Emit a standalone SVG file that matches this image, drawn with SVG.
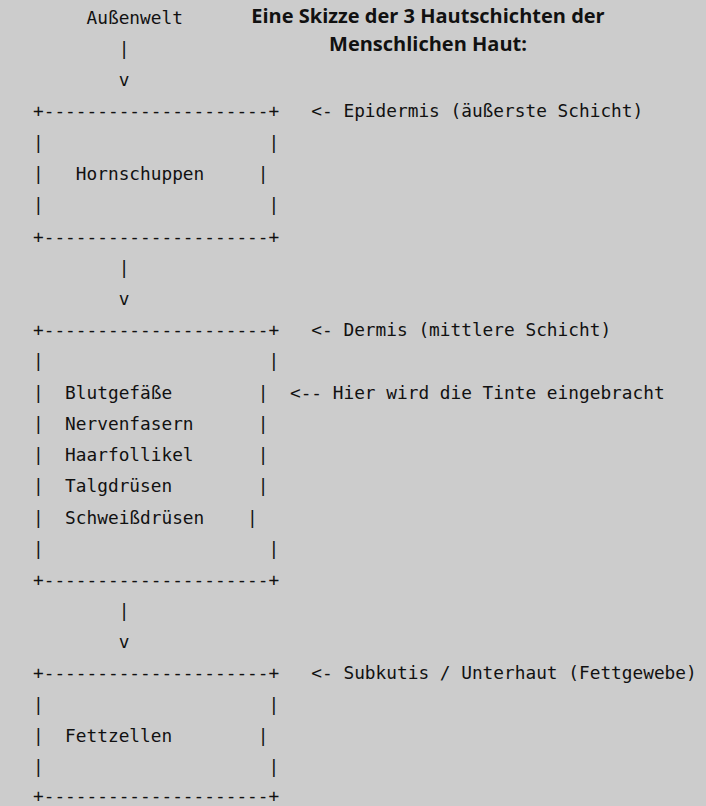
<svg xmlns="http://www.w3.org/2000/svg" width="706" height="806" viewBox="0 0 706 806">
<style>
.m{font-family:"DejaVu Sans Mono","Liberation Mono",monospace;font-size:17.8px;fill:#111;white-space:pre}
.t{font-family:"Open Sans","Noto Sans",sans-serif;font-size:20px;font-weight:bold;fill:#111;text-anchor:middle}
</style>
<rect width="706" height="806" fill="#cccccc"/>
<g id="title">
<text class="t" x="428" y="23">Eine Skizze der 3 Hautschichten der</text>
<text class="t" x="428" y="50.5">Menschlichen Haut:</text>
</g>
<g id="aussenwelt">
<text class="m" x="33" y="24" xml:space="preserve">     Außenwelt</text>
</g>
<g id="connectors">
<text class="m" x="33" y="55.2" xml:space="preserve">        |</text>
<text class="m" x="33" y="86.4" xml:space="preserve">        v</text>
<text class="m" x="33" y="273.8" xml:space="preserve">        |</text>
<text class="m" x="33" y="305" xml:space="preserve">        v</text>
<text class="m" x="33" y="617.2" xml:space="preserve">        |</text>
<text class="m" x="33" y="648.4" xml:space="preserve">        v</text>
</g>
<g id="epidermis">
<text class="m" x="33" y="117" xml:space="preserve">+---------------------+   &lt;- Epidermis (äußerste Schicht)</text>
<text class="m" x="33" y="148.9" xml:space="preserve">|                     |</text>
<text class="m" x="33" y="180.1" xml:space="preserve">|   Hornschuppen     |</text>
<text class="m" x="33" y="211.3" xml:space="preserve">|                     |</text>
<text class="m" x="33" y="242.5" xml:space="preserve">+---------------------+</text>
</g>
<g id="dermis">
<text class="m" x="33" y="336" xml:space="preserve">+---------------------+   &lt;- Dermis (mittlere Schicht)</text>
<text class="m" x="33" y="367.4" xml:space="preserve">|                     |</text>
<text class="m" x="33" y="398.6" xml:space="preserve">|  Blutgefäße        |  &lt;-- Hier wird die Tinte eingebracht</text>
<text class="m" x="33" y="429.9" xml:space="preserve">|  Nervenfasern      |</text>
<text class="m" x="33" y="461.1" xml:space="preserve">|  Haarfollikel      |</text>
<text class="m" x="33" y="492.3" xml:space="preserve">|  Talgdrüsen        |</text>
<text class="m" x="33" y="523.5" xml:space="preserve">|  Schweißdrüsen    |</text>
<text class="m" x="33" y="554.7" xml:space="preserve">|                     |</text>
<text class="m" x="33" y="586" xml:space="preserve">+---------------------+</text>
</g>
<g id="subkutis">
<text class="m" x="33" y="679.4" xml:space="preserve">+---------------------+   &lt;- Subkutis / Unterhaut (Fettgewebe)</text>
<text class="m" x="33" y="710.8" xml:space="preserve">|                     |</text>
<text class="m" x="33" y="742.1" xml:space="preserve">|  Fettzellen        |</text>
<text class="m" x="33" y="773.3" xml:space="preserve">|                     |</text>
<text class="m" x="33" y="801.6" xml:space="preserve">+---------------------+</text>
</g>
</svg>
